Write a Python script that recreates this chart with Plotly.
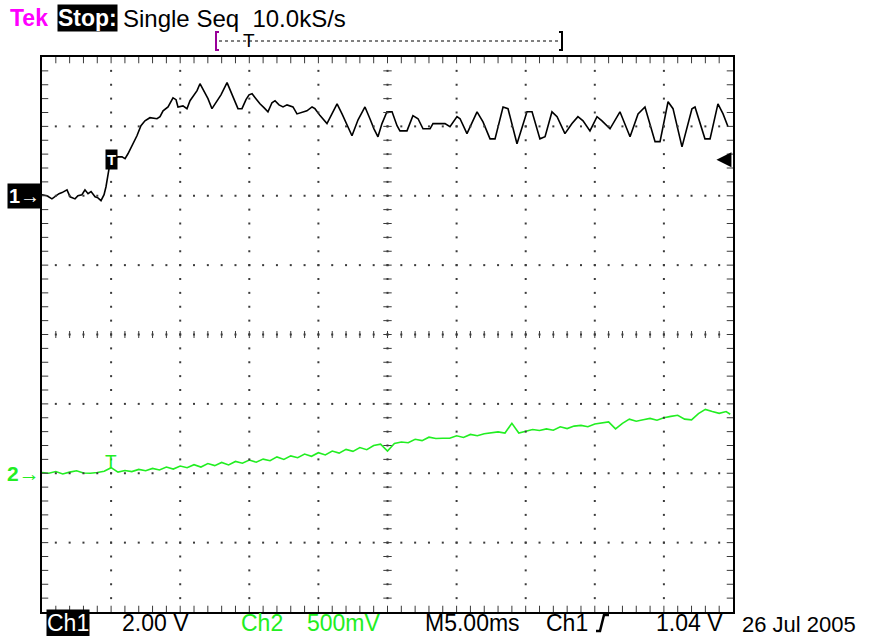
import plotly.graph_objects as go

# ---------------- data (time in ms, voltage in V) ----------------
ch1_t = [0.0, 0.36, 0.72, 0.94, 1.23, 1.45, 1.81, 2.03, 2.39, 2.60, 2.89, 3.11, 3.33, 3.55, 3.84,
         4.05, 4.27, 4.49, 4.63, 4.85, 4.99, 5.21, 5.50, 5.79, 6.01, 6.22, 6.51, 6.87, 7.16, 7.45,
         7.81, 8.32, 8.54, 8.76, 9.12, 9.48, 9.70, 9.84, 10.20, 10.49, 10.71, 10.93, 11.22, 11.43,
         11.72, 12.01, 12.30, 12.59, 12.95, 13.39, 13.68, 13.97, 14.18, 14.47, 14.76, 14.98, 15.20,
         15.48, 15.77, 16.06, 16.35, 16.64, 16.86, 17.15, 17.44, 17.73, 18.16, 18.45, 18.89, 19.17,
         19.54, 19.75, 20.12, 20.62, 20.98, 21.35, 21.71, 22.07, 22.43, 22.87, 23.37, 23.73, 24.02,
         24.31, 24.60, 24.96, 25.33, 25.69, 25.90, 26.41, 26.84, 27.21, 27.57, 28.08, 28.29, 29.16,
         29.52, 30.03, 30.25, 30.75, 31.48, 31.91, 32.42, 32.78, 33.36, 33.72, 34.37, 35.09, 35.46,
         36.03, 36.40, 36.90, 37.27, 37.84, 38.35, 38.78, 39.15, 39.65, 40.16, 40.52, 41.10, 41.82,
         42.55, 43.13, 43.63, 44.36, 44.72, 45.30, 45.66, 46.31, 47.03, 47.25, 47.97, 48.34, 48.91,
         49.28, 49.64]
ch1_v = [0.03, 0.00, -0.09, -0.03, 0.06, 0.09, 0.17, -0.03, -0.09, 0.00, 0.03, 0.17, 0.06, 0.12, -0.03,
         -0.06, -0.14, 0.03, 0.26, 0.78, 1.01, 1.07, 1.12, 1.12, 1.07, 1.21, 1.44, 1.73, 2.02, 2.16,
         2.25, 2.22, 2.28, 2.45, 2.56, 2.82, 2.77, 2.56, 2.59, 2.51, 2.74, 2.88, 3.03, 3.23,
         3.03, 2.80, 2.51, 2.68, 2.91, 3.26, 3.00, 2.71, 2.51, 2.51, 2.77, 2.91, 2.94,
         2.80, 2.65, 2.54, 2.42, 2.68, 2.74, 2.62, 2.56, 2.62, 2.56, 2.36, 2.42, 2.45,
         2.56, 2.51, 2.31, 2.08, 2.36, 2.65, 2.36, 2.02, 1.73, 2.19, 2.56, 2.22, 1.93,
         1.70, 2.08, 2.42, 2.42, 2.02, 1.87, 1.87, 2.31, 2.22, 1.93, 1.93, 2.08, 2.08,
         1.99, 2.28, 2.22, 1.79, 2.42, 2.13, 1.64, 1.64, 2.56, 2.51, 1.50, 2.42, 2.42,
         1.64, 1.70, 2.42, 2.28, 1.79, 2.08, 2.28, 2.16, 1.87, 2.28, 2.16, 1.93, 2.42,
         1.70, 2.36, 2.56, 1.56, 1.56, 2.71, 2.51, 1.41, 2.51, 2.56, 1.64, 1.64, 2.65,
         2.36, 1.99]

ch2_t = [0.0, 0.5, 1.0, 1.5, 2.0, 2.5, 3.0, 3.5, 4.0, 4.5, 5.0, 5.5, 6.0, 6.5, 7.0, 7.5, 8.0, 8.5,
         9.0, 9.5, 10.0, 10.5, 11.0, 11.5, 12.0, 12.5, 13.0, 13.5, 14.0, 14.5, 15.0, 15.5, 16.0,
         16.5, 17.0, 17.5, 18.0, 18.5, 19.0, 19.5, 20.0, 20.5, 21.0, 21.5, 22.0, 22.5, 23.0, 23.5,
         24.0, 24.5, 25.0, 25.5, 26.0, 26.5, 27.0, 27.5, 28.0, 28.5, 29.0, 29.5, 30.0, 30.5, 31.0,
         31.5, 32.0, 32.5, 33.0, 33.5, 34.0, 34.5, 35.0, 35.5, 36.0, 36.5, 37.0, 37.5, 38.0, 38.5,
         39.0, 39.5, 40.0, 40.5, 41.0, 41.5, 42.0, 42.5, 43.0, 43.5, 44.0, 44.5, 45.0, 45.5, 46.0,
         46.5, 47.0, 47.5, 48.0, 48.5, 49.0, 49.5, 49.8]
ch2_v = [0.005, 0.0, 0.012, -0.005, 0.008, 0.018, 0.002, 0.0, 0.006, 0.014, 0.040, 0.008, 0.020,
         0.012, 0.028, 0.018, 0.035, 0.024, 0.045, 0.030, 0.052, 0.040, 0.062, 0.045, 0.070, 0.055,
         0.078, 0.060, 0.085, 0.072, 0.095, 0.080, 0.102, 0.090, 0.118, 0.100, 0.125, 0.112, 0.138,
         0.122, 0.148, 0.132, 0.160, 0.145, 0.172, 0.158, 0.185, 0.170, 0.200, 0.210, 0.160, 0.215,
         0.225, 0.220, 0.245, 0.235, 0.260, 0.250, 0.252, 0.252, 0.270, 0.258, 0.280, 0.270, 0.285,
         0.290, 0.298, 0.290, 0.360, 0.290, 0.300, 0.315, 0.308, 0.320, 0.310, 0.335, 0.322, 0.340,
         0.345, 0.335, 0.355, 0.360, 0.370, 0.320, 0.360, 0.390, 0.375, 0.385, 0.395, 0.382, 0.400,
         0.410, 0.418, 0.390, 0.385, 0.430, 0.460, 0.445, 0.432, 0.445, 0.425]

# ---------------- scope settings ----------------
T_PER_DIV = 5.0       # ms/div
CH1_SCALE = 2.0       # V/div
CH2_SCALE = 0.5       # V/div
CH1_POS = 2           # ground marker, divisions above centre
CH2_POS = -2
TRIG_T = 5.0
TRIG_LEVEL = 1.04
XDIV, YDIV = 10, 8

GREEN = "#22ee22"
FONT = "Liberation Sans Narrow, Liberation Sans, Arial, sans-serif"
GRID = "#3a3a3a"

W, H = 871, 636
L, R, T, B = 42, 733, 57, 612


def px(x):
    return (x - L) / (R - L)


def py(y):
    return (B - y) / (B - T)


fig = go.Figure()

# ---------------- graticule (in divisions) ----------------
dot_x, dot_y = [], []
for i in range(1, XDIV):
    for k in range(1, YDIV * 5):
        dot_x.append(i * T_PER_DIV)
        dot_y.append(-4 + k * 0.2)
for j in range(1, YDIV):
    for k in range(1, XDIV * 5):
        dot_x.append(k * T_PER_DIV / 5)
        dot_y.append(-4 + j)
fig.add_trace(go.Scatter(x=dot_x, y=dot_y, mode="markers", yaxis="y3",
                         marker=dict(symbol="square", size=2, color=GRID, line=dict(width=0)),
                         hoverinfo="skip", showlegend=False))

# centre-line ticks
cx = XDIV / 2 * T_PER_DIV
fig.add_trace(go.Scatter(x=[cx] * (YDIV * 5 - 1), y=[-4 + k * 0.2 for k in range(1, YDIV * 5)],
                         mode="markers", yaxis="y3",
                         marker=dict(symbol="line-ew", size=6, line=dict(width=1, color=GRID)),
                         hoverinfo="skip", showlegend=False))
fig.add_trace(go.Scatter(x=[k * T_PER_DIV / 5 for k in range(1, XDIV * 5)], y=[0] * (XDIV * 5 - 1),
                         mode="markers", yaxis="y3",
                         marker=dict(symbol="line-ns", size=5, line=dict(width=1, color=GRID)),
                         hoverinfo="skip", showlegend=False))
# border ticks
bx = [k * T_PER_DIV / 5 for k in range(1, XDIV * 5)]
fig.add_trace(go.Scatter(x=bx + bx, y=[3.96] * len(bx) + [-3.96] * len(bx), mode="markers", yaxis="y3",
                         marker=dict(symbol="line-ns", size=5, line=dict(width=1, color=GRID)),
                         hoverinfo="skip", showlegend=False))
by = [-4 + k * 0.2 for k in range(1, YDIV * 5)]
fig.add_trace(go.Scatter(x=[0.2] * len(by) + [49.8] * len(by), y=by + by, mode="markers", yaxis="y3",
                         marker=dict(symbol="line-ew", size=5, line=dict(width=1, color=GRID)),
                         hoverinfo="skip", showlegend=False))

# ---------------- waveforms ----------------
fig.add_trace(go.Scatter(x=ch2_t, y=ch2_v, mode="lines", yaxis="y2",
                         line=dict(color=GREEN, width=1.6), showlegend=False))
fig.add_trace(go.Scatter(x=ch1_t, y=ch1_v, mode="lines", yaxis="y",
                         line=dict(color="black", width=1.6), showlegend=False))

ch1_range = [(-YDIV / 2 - CH1_POS) * CH1_SCALE, (YDIV / 2 - CH1_POS) * CH1_SCALE]
ch2_range = [(-YDIV / 2 - CH2_POS) * CH2_SCALE, (YDIV / 2 - CH2_POS) * CH2_SCALE]

ax_common = dict(showgrid=False, zeroline=False, showticklabels=False, ticks="")
fig.update_layout(
    width=W, height=H,
    margin=dict(l=L, r=W - R, t=T, b=H - B, pad=0),
    paper_bgcolor="white", plot_bgcolor="white",
    xaxis=dict(range=[0, XDIV * T_PER_DIV], showline=True, mirror=True, linecolor="black",
               linewidth=2, **ax_common),
    yaxis=dict(range=ch1_range, showline=True, mirror=True, linecolor="black", linewidth=2, **ax_common),
    yaxis2=dict(range=ch2_range, overlaying="y", visible=False),
    yaxis3=dict(range=[-YDIV / 2, YDIV / 2], overlaying="y", visible=False),
    showlegend=False,
)

ann = []


def text(x, y, s, color="black", size=23, bg=None, xanchor="left", bold=False, pad=0):
    ann.append(dict(x=px(x), y=py(y), xref="paper", yref="paper", text=("<b>%s</b>" % s) if bold else s,
                    showarrow=False, xanchor=xanchor, yanchor="middle",
                    font=dict(family=FONT, size=size, color=color),
                    bgcolor=bg, borderpad=pad))


# header
text(9, 18, "Tek", color="#ff00ff", bold=True)
text(57, 18, "Stop:", color="white", bg="black", bold=True)
text(122, 18, "Single Seq  10.0kS/s", size=24)
# footer
text(46, 623, "Ch1", color="white", bg="black")
text(121, 623, "2.00 V")
text(240, 623, "Ch2", color=GREEN)
text(306, 623, "500mV", color=GREEN)
text(424, 623, "M5.00ms")
text(545, 623, "Ch1")
text(655, 623, "1.04 V")
text(741, 624, "26 Jul 2005", size=22)

# channel markers
ann.append(dict(x=0, y=0, xref="paper", yref="y", text="<b>1→</b>", showarrow=False, xanchor="right",
                yanchor="middle", font=dict(family=FONT, size=20, color="white"), bgcolor="black",
                borderpad=1))
ann.append(dict(x=0, y=0, xref="paper", yref="y2", text="<b>2→</b>", showarrow=False, xanchor="right",
                yanchor="middle", font=dict(family=FONT, size=21, color=GREEN)))
# trigger markers
ann.append(dict(x=TRIG_T, y=TRIG_LEVEL, xref="x", yref="y", text="<b>T</b>", showarrow=False,
                xanchor="center", yanchor="middle", font=dict(family=FONT, size=15, color="white"),
                bgcolor="black", borderpad=1))
ann.append(dict(x=TRIG_T, y=0.085, xref="x", yref="y2", text="T", showarrow=False,
                xanchor="center", yanchor="middle", font=dict(family=FONT, size=19, color=GREEN)))
# trigger level arrow
ann.append(dict(x=48.8, y=TRIG_LEVEL, xref="x", yref="y", text="", showarrow=True, ax=16, ay=0,
                arrowhead=2, arrowsize=1.5, arrowwidth=2, arrowcolor="black", standoff=0))
# record bracket T
ann.append(dict(x=px(249), y=py(40), xref="paper", yref="paper", text="T", showarrow=False,
                xanchor="center", yanchor="middle", font=dict(family=FONT, size=19, color="black")))
fig.update_layout(annotations=ann)

shapes = [
    dict(type="line", xref="paper", yref="paper", x0=px(219), x1=px(560), y0=py(41), y1=py(41),
         line=dict(color="black", width=1, dash="dot")),
    dict(type="path", xref="paper", yref="paper",
         path="M %f %f L %f %f L %f %f L %f %f" % (px(219), py(32), px(216), py(32), px(216), py(50), px(219), py(50)),
         line=dict(color="#990099", width=2)),
    dict(type="path", xref="paper", yref="paper",
         path="M %f %f L %f %f L %f %f L %f %f" % (px(559), py(32), px(562), py(32), px(562), py(50), px(559), py(50)),
         line=dict(color="black", width=2)),
    # rising-edge trigger slope symbol
    dict(type="path", xref="paper", yref="paper",
         path="M %f %f L %f %f L %f %f L %f %f" % (px(596), py(631), px(600), py(631), px(604), py(615), px(609), py(615)),
         line=dict(color="black", width=2.5)),
]
fig.update_layout(shapes=shapes)

fig.write_html("out.html", config={"displayModeBar": False},
               post_script="document.body.style.margin='0';document.body.style.overflow='hidden';")
